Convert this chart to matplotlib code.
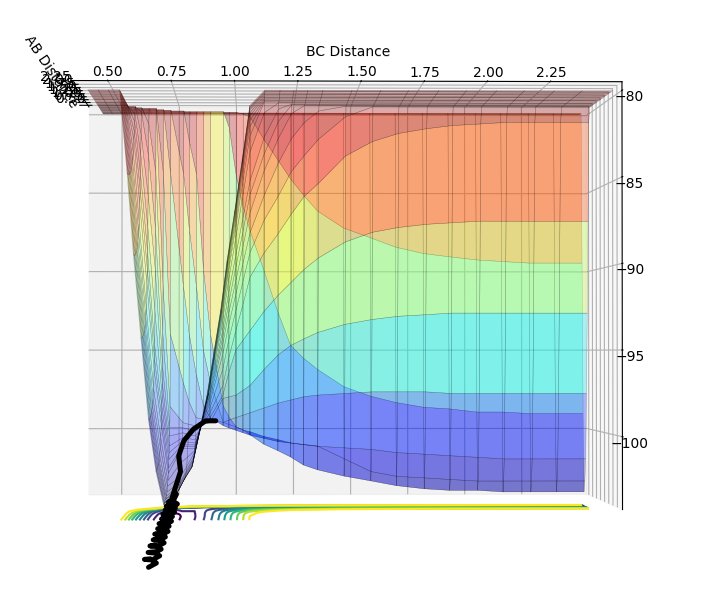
"""
LEPS surface for the A + BC collision, capped at -80, with the contour map
dropped underneath and one reactive trajectory on top.
"""
import numpy as np
import matplotlib; matplotlib.use("Agg"); import matplotlib.pyplot as plt

# distance grid, same on both axes
dist = [0.42, 0.46, 0.50, 0.545, 0.60, 0.66, 0.72, 0.775, 0.83, 0.89, 0.945, 1.00, 1.06, 1.12,
        1.18, 1.235, 1.29, 1.35, 1.465, 1.58, 1.69, 1.81, 1.92, 2.04, 2.15, 2.27, 2.38, 2.50]

# upper triangle of the potential, per AB index: (first BC index, values). The rest sits at the cap.
row_04 = (12, [-80.3, -81.7, -83, -84.2, -85.2, -86.2, -87.3, -87.9, -88.5, -88.9, -89.1, -89.3, -89.4, -89.5, -89.5, -89.5])
row_05 = (11, [-84, -87.5, -90, -92.6, -94.7, -95.5, -96.2, -97.3, -97.9, -98.3, -98.6, -98.7, -98.9, -98.9, -99, -99, -99])
row_06 = (8, [-84, -94, -98.5, -99.8, -100.3, -100.9, -101.3, -101.7, -102.2, -102.5, -102.9, -103.2, -103.5, -103.7, -103.8, -103.8, -103.9, -103.9, -103.9, -103.9])
row_07 = (7, [-84, -91, -97, -99.5, -99.8, -100.1, -100.4, -100.6, -100.8, -100.9, -101, -101.8, -102.6, -102.9, -103, -103.1, -103.2, -103.2, -103.2, -103.2, -103.2])
row_08 = (8, [-96.5, -99.2, -99.7, -100, -100.3, -100.5, -100.7, -100.8, -100.9, -101, -101.1, -101.2, -101.4, -101.5, -101.6, -101.7, -101.8, -101.8, -101.8, -101.8])
row_09 = (9, [-99.3, -99.5, -99.2, -98.9, -98.6, -98.3, -98.1, -97.9, -97.8, -97.7, -97.6, -97.6, -97.6, -97.7, -97.7, -97.7, -97.7, -97.7, -97.7])
row_10 = (10, [-98, -97.8, -97.2, -96.2, -95.3, -94.7, -94.3, -93.9, -93.4, -93.1, -92.9, -92.8, -92.7, -92.7, -92.7, -92.7, -92.7, -92.7])
row_11 = (11, [-95, -93.8, -92.6, -91.6, -90.8, -90, -89.3, -88.3, -87.7, -87.4, -87.2, -87.1, -87, -87, -87, -87, -87])
row_12 = (12, [-90.5, -89, -87.8, -86.6, -85.5, -84.7, -83, -82.1, -81.6, -81.3, -81.1, -81, -80.9, -80.9, -80.9, -80.9])
row_13 = (13, [-87, -85.5, -84, -83, -82, -80.6])
row_14 = (14, [-83.5, -82, -81, -80.3])
row_15 = (15, [-80.5])
rows = {4: row_04, 5: row_05, 6: row_06, 7: row_07, 8: row_08, 9: row_09, 10: row_10,
        11: row_11, 12: row_12, 13: row_13, 14: row_14, 15: row_15}

# extra BC columns inside the well, one value per AB grid entry
col_0575 = [-80] * 14 + [-80.5, -81, -81.6, -82.2, -83, -83.6, -84, -84.3, -84.5, -84.6, -84.7, -84.8, -84.8, -84.8]
col_063 = [-80] * 11 + [-81, -83, -85.5, -87.5, -89, -90, -91, -92.5, -93, -93.5, -93.8, -94, -94.1, -94.2, -94.3, -94.3, -94.3]
col_069 = [-80] * 9 + [-84, -91, -94, -96, -97, -97.7, -98.4, -99, -99.5, -100.3, -100.8, -101.3, -101.6, -101.7, -101.8, -101.9, -102, -102, -102]
col_080 = [-80] * 6 + [-82, -87.5, -94, -98.2, -99.6, -99.9, -100.2, -100.45, -100.65, -100.8, -100.9, -101, -101.5, -102, -102.2, -102.3, -102.4, -102.5, -102.5, -102.5, -102.5, -102.5]
col_086 = [-80] * 6 + [-90, -95, -98.4, -99.3, -99.6, -99.6, -99.6, -99.55, -99.5, -99.45, -99.4, -99.4, -99.4, -99.4, -99.5, -99.55, -99.65, -99.7, -99.75, -99.75, -99.75, -99.75]
col_097 = [-80] * 5 + [-81, -99.2, -99.65, -99.85, -99.35, -97.9, -96.4, -95.5, -94.4, -93.5, -92.8, -92.2, -91.6, -90.9, -90.4, -90.2, -90, -89.9, -89.85, -89.85, -89.85, -89.85, -89.85]
col_103 = [-80] * 4 + [-80.1, -86, -100, -100, -100.15, -99.05, -97.5, -94.4, -92.2, -90.8, -89.7, -88.7, -87.8, -87, -85.7, -84.9, -84.5, -84.2, -84.1, -84, -84, -84, -84, -84]
extra_cols = {0.575: col_0575, 0.63: col_063, 0.69: col_069, 0.80: col_080,
              0.86: col_086, 0.97: col_097, 1.03: col_103}

# trajectory: slide off the saddle, then AB flies apart while BC vibrates
traj_bc = [0.914, 0.871, 0.82, 0.78, 0.76, 0.77, 0.75, 0.74, 0.76, 0.75,
           0.73, 0.75, 0.77, 0.75, 0.73, 0.75, 0.77, 0.75, 0.735, 0.755, 0.775, 0.755,
           0.735, 0.755, 0.775, 0.755, 0.74, 0.76, 0.78, 0.76, 0.74, 0.76, 0.78, 0.76,
           0.745, 0.765, 0.785, 0.765, 0.745, 0.765, 0.785, 0.765, 0.75, 0.77, 0.79, 0.77,
           0.75, 0.77, 0.79, 0.77, 0.755, 0.775, 0.795, 0.775, 0.755, 0.775, 0.795, 0.775]
traj_ab = [0.87, 0.88, 0.92, 1.00, 1.15, 1.30, 1.60, 1.68, 1.76, 1.84,
           1.92, 2.05, 2.18, 2.31, 2.44, 2.57, 2.70, 2.83, 2.96, 3.09, 3.22, 3.35,
           3.48, 3.61, 3.74, 3.87, 4.00, 4.13, 4.26, 4.39, 4.52, 4.65, 4.78, 4.91,
           5.04, 5.17, 5.30, 5.43, 5.56, 5.69, 5.82, 5.95, 6.08, 6.21, 6.34, 6.47,
           6.60, 6.73, 6.86, 6.99, 7.12, 7.25, 7.38, 7.51, 7.64, 7.77, 7.90, 8.03]
traj_v = [-99.4, -99.4, -99.9, -100.6, -101.5, -102.4, -103.4, -103.9, -103.6, -103.9,
          -104.0, -103.9, -104.0, -104.1, -104.0, -103.9, -104.0, -104.1, -104.0, -103.9, -104.0, -104.1,
          -104.0, -103.9, -104.0, -104.1, -104.0, -103.9, -104.0, -104.1, -104.0, -103.9, -104.0, -104.1,
          -104.0, -103.9, -104.0, -104.1, -104.0, -103.9, -104.0, -104.1, -104.0, -103.9, -104.0, -104.1,
          -104.0, -103.9, -104.0, -104.1, -104.0, -103.9, -104.0, -104.1, -104.0, -103.9, -104.0, -104.1]

contour_levels = [-103, -101, -98.5, -96, -93.5, -91, -88.5, -86, -83.5, -81]
dist_ticks = [0.50, 0.75, 1.00, 1.25, 1.50, 1.75, 2.00, 2.25]
v_ticks = [-80, -85, -90, -95, -100]

n = len(dist)
V = np.full((n, n), -80.0)
for i, (start, vals) in rows.items():
    V[i, start:start + len(vals)] = vals
    V[start:start + len(vals), i] = vals
bc_grid = np.array(dist)
for bc, col in extra_cols.items():
    k = np.searchsorted(bc_grid, bc)
    bc_grid = np.insert(bc_grid, k, bc)
    V = np.insert(V, k, col, axis=1)
BC, AB = np.meshgrid(bc_grid, dist)

fig = plt.figure(figsize=(7.12, 6.0), dpi=100)
ax = fig.add_subplot(projection="3d")
ax.set_position([-0.031, -0.031, 1.0, 1.04])
ax.set_box_aspect((4, 2.64, 3.11), zoom=1.163)
ax.computed_zorder = False
ax.view_init(elev=-0.9, azim=88.5)

ax.plot_surface(BC, AB, V, rstride=1, cstride=1, cmap="jet", alpha=0.3,
                edgecolor="k", linewidth=0.3, zorder=1)
ax.contour(BC, AB, V, contour_levels, zdir="z", offset=-104.8, cmap="viridis", zorder=2)
ax.plot(traj_bc, traj_ab, traj_v, color="k", lw=3.6, solid_capstyle="round", zorder=3)

ax.set_xlim(2.535, 0.355)
ax.set_ylim(0.355, 2.535)
ax.set_zlim(-104.2, -79.5)
ax.set_xticks(dist_ticks)
ax.set_yticks(dist_ticks)
ax.set_zticks(v_ticks)
ax.zaxis.set_ticks_position("upper")
ax.tick_params(axis="x", pad=0)
ax.tick_params(axis="y", pad=0)
ax.tick_params(axis="z", pad=-5)
ax.set_xlabel("BC Distance", labelpad=-6)
ax.set_ylabel("AB Distance", labelpad=-8)

plt.savefig("out.png", dpi=100)
